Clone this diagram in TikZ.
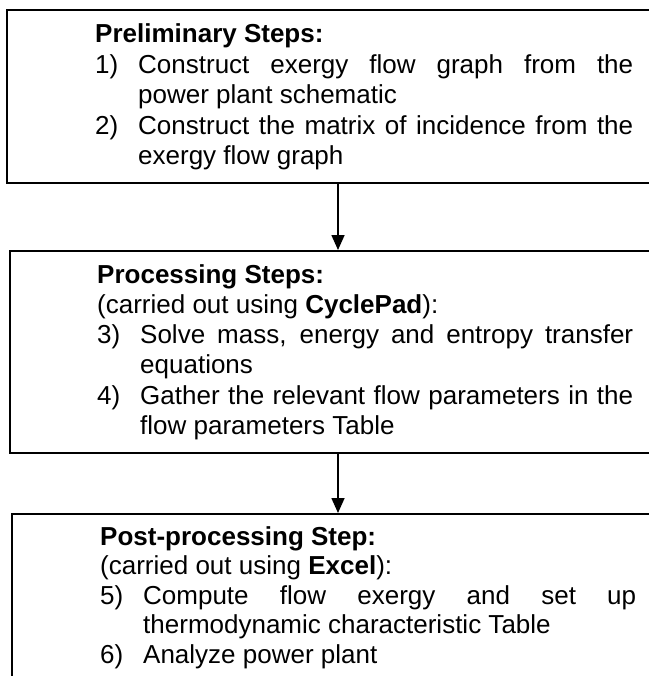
\documentclass[tikz,border=0pt]{standalone}
\usepackage{fontspec}
\setmainfont{Liberation Sans}
\usetikzlibrary{arrows.meta}
\hbadness=10000
\newcommand{\stepitem}[1]{\par\noindent\hangindent=43pt\hangafter=1\makebox[43pt][l]{#1}\ignorespaces}
\newcommand{\txtblock}[3]{\parbox[t]{#1}{\fontsize{26}{#2}\selectfont\parindent=0pt\parskip=0pt #3}}
\tikzset{
  box/.style={draw=black, line width=1.6pt, anchor=north west, inner sep=0pt},
  txt/.style={anchor=base west, inner sep=0pt},
  arr/.style={line width=1.6pt, -{Triangle[width=13pt,length=15pt]}}
}
\begin{document}
\begin{tikzpicture}[x=1pt,y=1pt]
\useasboundingbox (0,0) rectangle (648,-676);
\fill[white] (0,0) rectangle (648,-676);
% boxes
\node[box, minimum width=646pt, minimum height=173pt] (b1) at (6,-9) {};
\node[box, minimum width=645pt, minimum height=202pt] (b2) at (9,-250) {};
\node[box, minimum width=645pt, minimum height=185pt] (b3) at (11,-513) {};
% texts
\node[txt] (t1) at (95,-43) {\txtblock{538pt}{30.5pt}{%
\textbf{Preliminary Steps:}
\stepitem{1)}Construct exergy flow graph from the\linebreak power plant schematic
\stepitem{2)}Construct the matrix of incidence from the\linebreak exergy flow graph}};
\node[txt] (t2) at (97,-283) {\txtblock{536pt}{30.3pt}{%
\textbf{Processing Steps:}\par
(carried out using \textbf{CyclePad}):
\stepitem{3)}Solve mass, energy and entropy transfer\linebreak equations
\stepitem{4)}Gather the relevant flow parameters in the\linebreak flow parameters Table}};
\node[txt] (t3) at (100,-545) {\txtblock{536pt}{29.6pt}{%
\textbf{Post-processing Step:}\par
(carried out using \textbf{Excel}):
\stepitem{5)}Compute flow exergy and set up\linebreak thermodynamic characteristic Table
\stepitem{6)}Analyze power plant}};
% arrows
\coordinate (ax) at (338,0);
\draw[arr] (b1.south -| ax) -- (b2.north -| ax);
\draw[arr] (b2.south -| ax) -- (b3.north -| ax);
\end{tikzpicture}
\end{document}
